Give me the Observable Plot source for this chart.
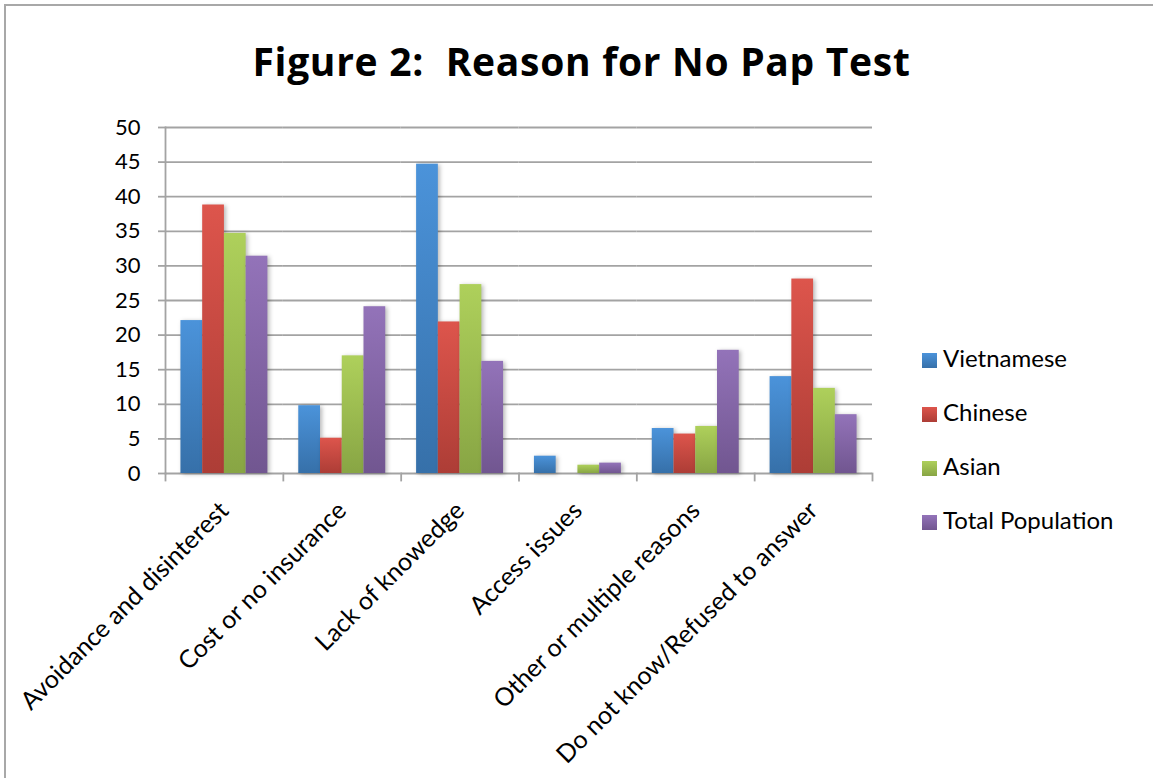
<!DOCTYPE html>
<html>
<head>
<meta charset="utf-8">
<script src="https://cdn.jsdelivr.net/npm/d3@7"></script>
<script src="https://cdn.jsdelivr.net/npm/@observablehq/plot@0.6"></script>
<style>
  body { margin: 0; background: #fff; }
  #fig { position: relative; width: 1153px; height: 778px; overflow: hidden; font-family: Lato, "Open Sans", sans-serif; color: #000; }
  #box { position: absolute; left: 4px; top: 4px; width: 1300px; height: 900px; border: 2px solid #a8a8a8; box-sizing: border-box; }
  #title { position: absolute; left: 0; top: 36px; width: 1163px; text-align: center; font-family: "Open Sans", sans-serif; font-weight: 700; font-size: 39px; letter-spacing: 0.7px; line-height: 50px; }
  #chart { position: absolute; left: 0; top: 0; }
  #legend { position: absolute; left: 922px; top: 340px; }
  .item { position: relative; height: 54px; font-size: 24px; line-height: 36px; white-space: nowrap; }
  .swatch { display: inline-block; width: 15px; height: 15px; margin-right: 6px; vertical-align: -1px; }
  g[aria-label="bar"] rect { filter: drop-shadow(2px 1px 2px rgba(0,0,0,0.28)); }
</style>
</head>
<body>
<div id="fig">
  <div id="box"></div>
  <div id="title">Figure 2:&nbsp; Reason for No Pap Test</div>
  <div id="chart"></div>
  <div id="legend"></div>
</div>
<!-- gradient paints shared by the bars -->
<svg width="0" height="0" style="position:absolute">
  <defs id="paints"></defs>
</svg>
<script>
// Reasons given for not having a Pap test (percent of respondents)
const categories = [
  "Avoidance and disinterest",
  "Cost or no insurance",
  "Lack of knowedge",
  "Access issues",
  "Other or multiple reasons",
  "Do not know/Refused to answer"
];
const seriesNames = ["Vietnamese", "Chinese", "Asian", "Total Population"];
const vietnamese      = [22.1,  9.8, 44.7, 2.5,  6.5, 14.0];
const chinese         = [38.8,  5.1, 21.9, 0.0,  5.7, 28.1];
const asian           = [34.7, 17.0, 27.3, 1.2,  6.8, 12.3];
const totalPopulation = [31.4, 24.1, 16.2, 1.5, 17.8,  8.5];
const yTicks = [0, 5, 10, 15, 20, 25, 30, 35, 40, 45, 50];

// top / bottom colours of each series' vertical gradient
const gradientStops = [
  ["#4b93da", "#3670a9"],
  ["#dd554c", "#ad3d36"],
  ["#aed05b", "#88a544"],
  ["#9373b9", "#715690"]
];

const defs = d3.select("#paints");
const paints = gradientStops.map(([top, bottom], i) => {
  const id = "paint" + i;
  const g = defs.append("linearGradient").attr("id", id)
    .attr("x1", 0).attr("y1", 0).attr("x2", 0).attr("y2", 1);
  g.append("stop").attr("offset", "0%").attr("stop-color", top);
  g.append("stop").attr("offset", "100%").attr("stop-color", bottom);
  return `url(#${id})`;
});

const columns = [vietnamese, chinese, asian, totalPopulation];
const data = categories.flatMap((category, i) =>
  seriesNames.map((series, k) => ({category, series, value: columns[k][i]}))
);

const W = 1153, H = 778;
const margin = {top: 127, right: 281, bottom: 305, left: 165};
const innerH = H - margin.top - margin.bottom;
const axisGrey = "#a3a3a3";

const chart = Plot.plot({
  width: W,
  height: H,
  marginTop: margin.top,
  marginRight: margin.right,
  marginBottom: margin.bottom,
  marginLeft: margin.left,
  style: {fontFamily: "Lato, 'Open Sans', sans-serif", fontSize: "22px", color: "#000", background: "transparent", overflow: "visible"},
  fx: {domain: categories, padding: 0, round: false, label: null},
  x: {domain: seriesNames, paddingInner: 0, paddingOuter: 0.71, round: false, axis: null},
  y: {domain: [0, 50], axis: null},
  color: {domain: seriesNames, range: paints},
  marks: [
    Plot.gridY(yTicks, {stroke: axisGrey, strokeOpacity: 1, strokeWidth: 1.8}),
    Plot.frame({anchor: "left", facetAnchor: "left", stroke: axisGrey, strokeWidth: 1.8}),
    Plot.frame({anchor: "left", insetTop: innerH, insetBottom: -7, stroke: axisGrey, strokeWidth: 1.8}),
    Plot.frame({anchor: "right", facetAnchor: "right", insetTop: innerH, insetBottom: -7, stroke: axisGrey, strokeWidth: 1.8}),
    Plot.axisY(yTicks, {tickSize: 7, tickPadding: 18, stroke: axisGrey, strokeWidth: 1.8, fontSize: 22, label: null}),
    Plot.barY(data, {fx: "category", x: "series", y: "value", fill: "series"}),
    Plot.axisFx({anchor: "bottom", tickRotate: -45, tickSize: 0, tickPadding: 33, fontSize: 25, label: null})
  ]
});
document.getElementById("chart").append(chart);

// legend
const legend = d3.select("#legend");
seriesNames.forEach((name, k) => {
  const item = legend.append("div").attr("class", "item");
  item.append("span").attr("class", "swatch").style("background",
    `linear-gradient(${gradientStops[k][0]}, ${gradientStops[k][1]})`);
  item.append("span").text(name);
});
</script>
</body>
</html>
